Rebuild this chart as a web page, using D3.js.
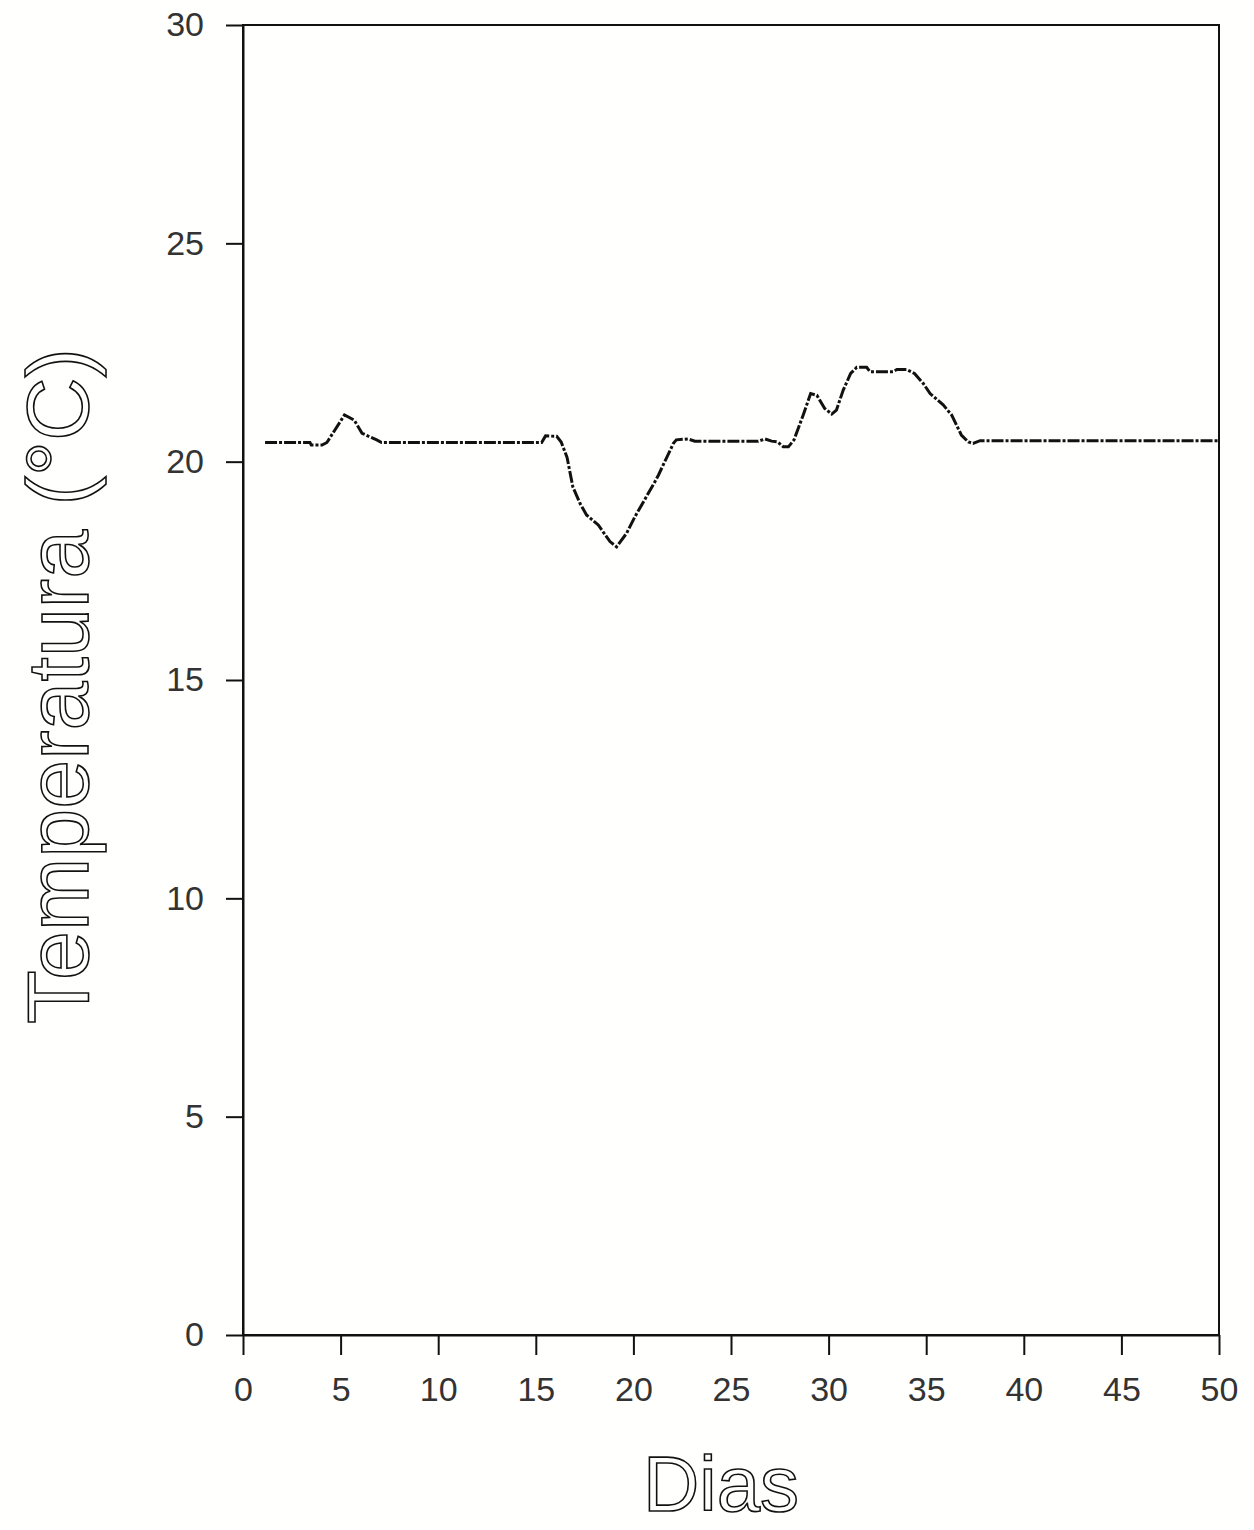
<!DOCTYPE html>
<html>
<head>
<meta charset="utf-8">
<script src="https://cdn.jsdelivr.net/npm/d3@7"></script>
<style>
  body { margin: 0; background: #fffffd; }
  svg { display: block; }
  .axis path, .axis line { stroke: #111; stroke-width: 2px; }
  .axis text { font-family: "Liberation Sans", Arial, sans-serif; font-size: 34px; fill: #333; }
  .axis-title { font-family: "Liberation Sans", Arial, sans-serif; fill: none; stroke: #111; stroke-width: 1.6px; }
  .temp-line { fill: none; stroke: #111; stroke-width: 3px; stroke-dasharray: 12,2,3,2; }
</style>
</head>
<body>
<svg id="chart"></svg>
<script>
/* ---------- data ---------- */
const days = [1.13, 3.43, 3.5, 4.05, 4.3, 5.2, 5.7, 6.1, 6.85, 7.1, 15.3, 15.5, 16.07, 16.3, 16.6,
  16.9, 17.27, 17.6, 18.2, 18.8, 19.14, 19.65, 20.08, 21.1, 21.28, 22.05, 22.2, 22.8, 23.15,
  26.4, 26.74, 27.08, 27.4, 27.68, 27.94, 28.23, 28.7, 29.08, 29.4, 29.8, 30.16, 30.4, 30.75,
  31.13, 31.44, 31.95, 32.12, 33.3, 33.5, 34.0, 34.4, 34.85, 35.2, 35.87, 36.3, 36.8, 37.16,
  37.4, 37.76, 50];
const temps = [20.44, 20.44, 20.38, 20.38, 20.44, 21.07, 20.95, 20.65, 20.5, 20.44, 20.44, 20.59,
  20.58, 20.45, 20.1, 19.42, 19.04, 18.78, 18.55, 18.17, 18.05, 18.36, 18.74, 19.54, 19.69,
  20.42, 20.5, 20.52, 20.47, 20.47, 20.52, 20.47, 20.45, 20.34, 20.34, 20.5, 21.07, 21.56,
  21.52, 21.22, 21.09, 21.18, 21.64, 22.02, 22.16, 22.16, 22.06, 22.06, 22.11, 22.11, 22.02,
  21.79, 21.56, 21.3, 21.07, 20.61, 20.45, 20.42, 20.48, 20.48];
const xTicks = [0, 5, 10, 15, 20, 25, 30, 35, 40, 45, 50];
const yTicks = [0, 5, 10, 15, 20, 25, 30];

const viewW = 1254, viewH = 1530;
const margin = { top: 25, right: 35, bottom: 195, left: 243 };
const innerW = viewW - margin.left - margin.right;
const innerH = viewH - margin.top - margin.bottom;

const svg = d3.select("#chart").attr("width", viewW).attr("height", viewH);
const g = svg.append("g").attr("transform", `translate(${margin.left},${margin.top})`);

const xScale = d3.scaleLinear().domain([0, 50]).range([0, innerW]);
const yScale = d3.scaleLinear().domain([0, 30]).range([innerH, 0]);

// frame
g.append("rect").attr("width", innerW).attr("height", innerH)
  .attr("fill", "none").attr("stroke", "#111").attr("stroke-width", 2);

const xAxis = d3.axisBottom(xScale).tickValues(xTicks).tickSize(20).tickPadding(22).tickSizeOuter(0);
const yAxis = d3.axisLeft(yScale).tickValues(yTicks).tickSize(17).tickPadding(22).tickSizeOuter(0);

g.append("g").attr("class", "axis").attr("transform", `translate(0,${innerH})`).call(xAxis);
g.append("g").attr("class", "axis").call(yAxis);

/* ---------- titles ---------- */
g.append("text").attr("class", "axis-title")
  .attr("x", innerW / 2 - 10).attr("y", innerH + 176)
  .attr("text-anchor", "middle").attr("font-size", 78)
  .text("Dias");

g.append("text").attr("class", "axis-title")
  .attr("transform", "rotate(-90)")
  .attr("x", -(686 - margin.top)).attr("y", -243 + 88)
  .attr("text-anchor", "middle").attr("font-size", 88)
  .text("Temperatura (°C)");

/* ---------- curve ---------- */
const series = days.map((d, i) => ({ d, t: temps[i] }));
const lineGen = d3.line().x(p => xScale(p.d)).y(p => yScale(p.t));

g.append("path").datum(series).attr("class", "temp-line").attr("d", lineGen);
</script>
</body>
</html>
